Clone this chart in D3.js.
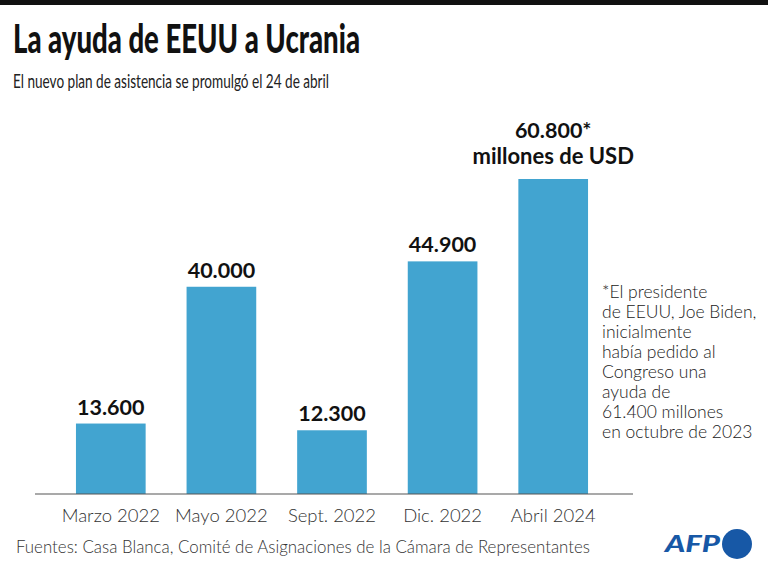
<!DOCTYPE html>
<html>
<head>
<meta charset="utf-8">
<script src="https://cdn.jsdelivr.net/npm/d3@7"></script>
<style>
  body { margin: 0; background: #fff; }
  svg { display: block; }
</style>
</head>
<body>
<svg id="chart" width="768" height="572"></svg>
<script>
const categories = ["Marzo 2022", "Mayo 2022", "Sept. 2022", "Dic. 2022", "Abril 2024"];
const values = [13600, 40000, 12300, 44900, 60800];
const valueLabels = ["13.600", "40.000", "12.300", "44.900", "60.800*"];
const unitLabel = "millones de USD";
const noteLines = ["*El presidente", "de EEUU, Joe Biden,", "inicialmente", "había pedido al", "Congreso una", "ayuda de", "61.400 millones", "en octubre de 2023"];
const title = "La ayuda de EEUU a Ucrania";
const subtitle = "El nuevo plan de asistencia se promulgó el 24 de abril";
const source = "Fuentes: Casa Blanca, Comité de Asignaciones de la Cámara de Representantes";

const svg = d3.select("#chart");
const FONT = "Lato, 'Open Sans', sans-serif";

// compress text horizontally to a target width (narrow source font look)
function squeeze(sel, target) {
  const w = sel.node().getComputedTextLength();
  if (w > target) sel.attr("textLength", target).attr("lengthAdjust", "spacingAndGlyphs");
  return sel;
}

// top black rule
svg.append("rect").attr("x", 0).attr("y", 0).attr("width", 768).attr("height", 5).attr("fill", "#111");

squeeze(svg.append("text").attr("x", 13).attr("y", 53).attr("font-family", FONT)
  .attr("font-weight", 900).attr("font-size", 40).attr("fill", "#111").text(title), 347);

squeeze(svg.append("text").attr("x", 13).attr("y", 88).attr("font-family", FONT)
  .attr("font-weight", 400).attr("font-size", 18.5).attr("fill", "#222").text(subtitle), 316);

const x = d3.scaleBand().domain(categories).range([55.5, 608.5]).paddingInner(0.37).paddingOuter(0.185);
const y = d3.scaleLinear().domain([0, 60800]).range([494, 179]);

const g = svg.append("g");
g.selectAll("rect.bar").data(values).join("rect")
  .attr("class", "bar")
  .attr("x", (d, i) => x(categories[i]))
  .attr("width", x.bandwidth())
  .attr("y", d => y(d))
  .attr("height", d => y(0) - y(d))
  .attr("fill", "#42a4d0");

// baseline
svg.append("line").attr("x1", 35).attr("x2", 633).attr("y1", y(0)).attr("y2", y(0))
  .attr("stroke", "#555").attr("stroke-width", 1.2);

// x axis labels
const xAxis = d3.axisBottom(x).tickSize(0).tickPadding(0);
const ax = svg.append("g").attr("transform", `translate(0,${y(0)})`).call(xAxis);
ax.select(".domain").remove();
ax.selectAll("text").attr("font-family", FONT).attr("font-size", 18.5).attr("font-weight", 300)
  .attr("fill", "#333").attr("dy", 0).attr("y", 28);

// value labels
g.selectAll("text.val").data(values).join("text")
  .attr("class", "val")
  .attr("x", (d, i) => x(categories[i]) + x.bandwidth() / 2)
  .attr("y", (d, i) => i === values.length - 1 ? y(d) - 41 : y(d) - 9)
  .attr("text-anchor", "middle")
  .attr("font-family", FONT).attr("font-weight", 700).attr("font-size", 21.5)
  .attr("fill", "#111")
  .text((d, i) => valueLabels[i]);

svg.append("text")
  .attr("x", x(categories[4]) + x.bandwidth() / 2).attr("y", y(values[4]) - 15)
  .attr("text-anchor", "middle")
  .attr("font-family", FONT).attr("font-weight", 700).attr("font-size", 22)
  .attr("fill", "#111").text(unitLabel);

// note
const note = svg.append("text").attr("font-family", FONT).attr("font-weight", 300)
  .attr("font-size", 17.5).attr("fill", "#222");
noteLines.forEach((t, i) => {
  note.append("tspan").attr("x", 602).attr("y", 298 + i * 20).text(t);
});

// source
squeeze(svg.append("text").attr("x", 16).attr("y", 553).attr("font-family", FONT)
  .attr("font-weight", 300).attr("font-size", 17.5).attr("fill", "#333").text(source), 574);

// AFP logo
const logo = svg.append("g");
logo.append("text").attr("x", 665).attr("y", 552).attr("font-family", FONT)
  .attr("font-weight", 900).attr("font-style", "italic").attr("font-size", 22)
  .attr("textLength", 55).attr("lengthAdjust", "spacingAndGlyphs")
  .attr("fill", "#1758a6").text("AFP");
logo.append("circle").attr("cx", 737).attr("cy", 544).attr("r", 15).attr("fill", "#1758a6");
</script>
</body>
</html>
